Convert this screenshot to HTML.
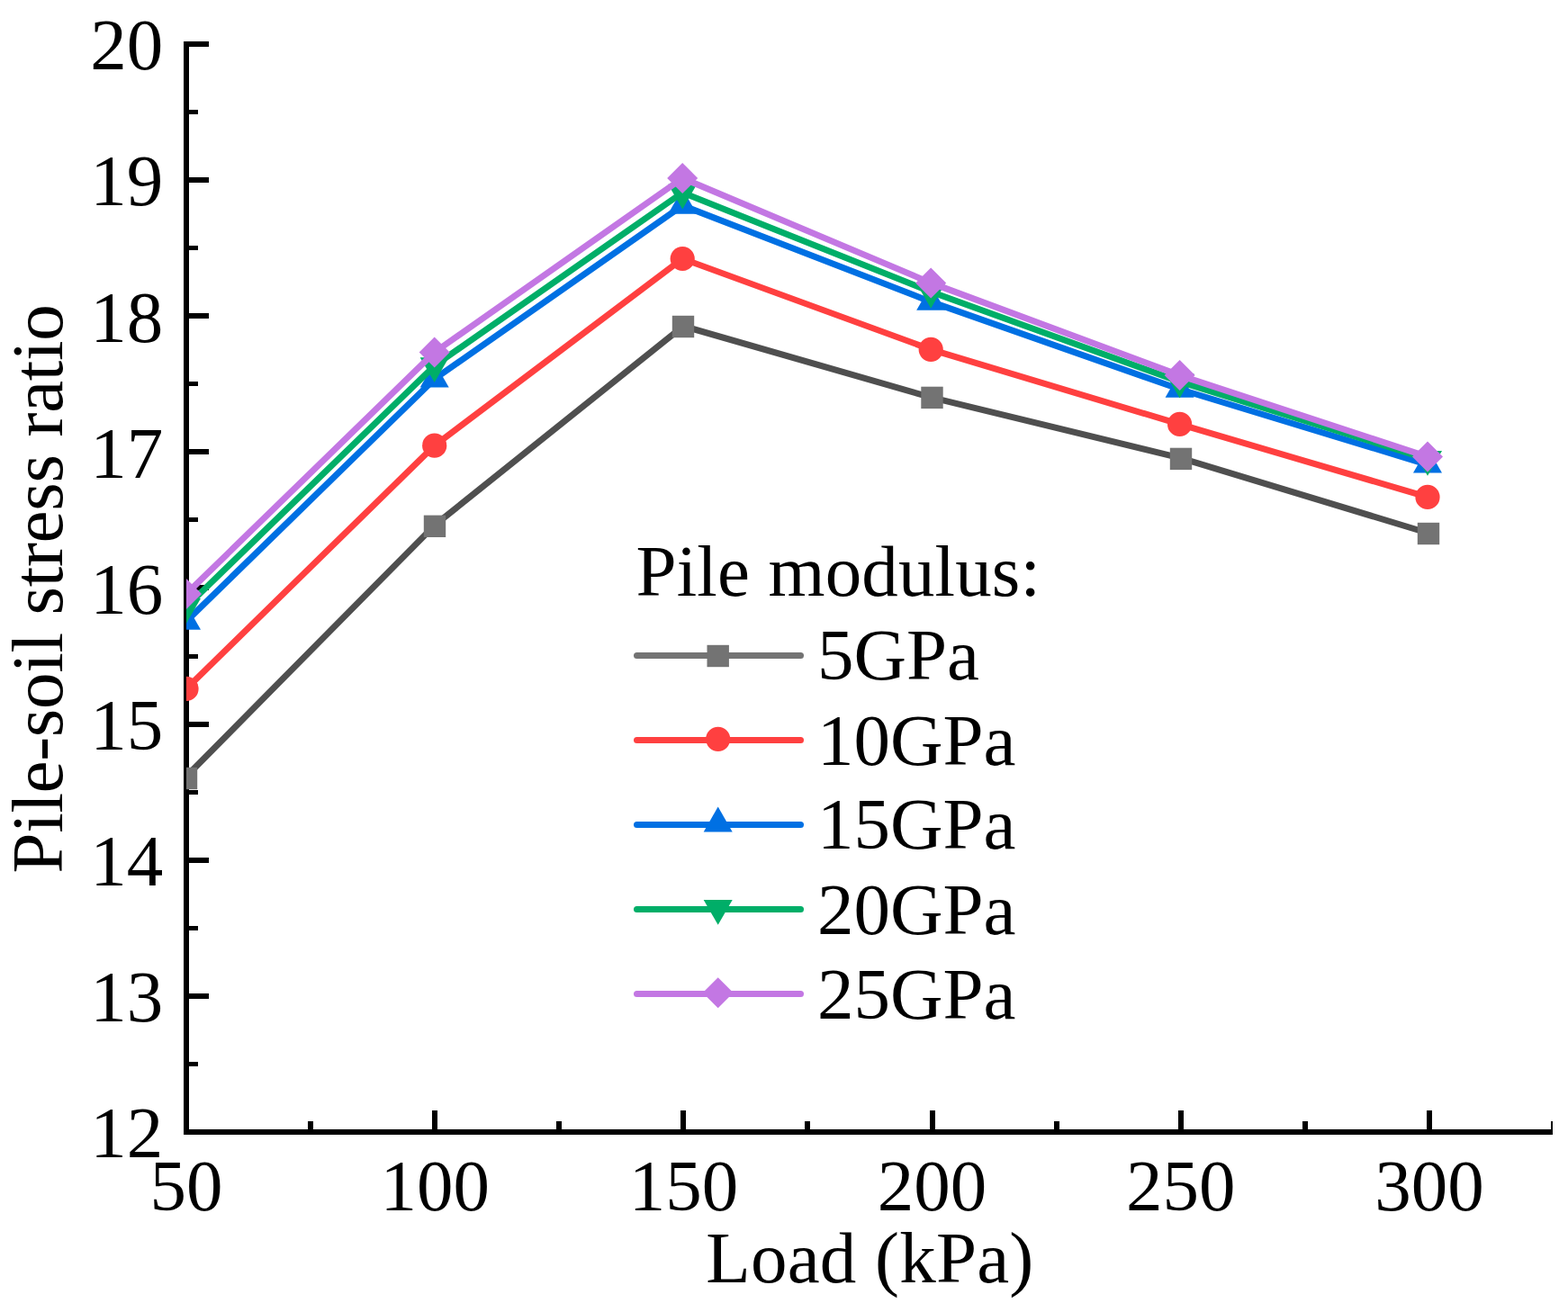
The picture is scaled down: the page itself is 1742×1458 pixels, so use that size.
<!DOCTYPE html>
<html><head><meta charset="utf-8"><title>Pile-soil stress ratio vs Load</title>
<style>html,body{margin:0;padding:0;background:#fff;}svg{display:block;}</style>
</head><body>
<svg width="1742" height="1458" viewBox="0 0 1742 1458">
<defs><clipPath id="pc"><rect x="207" y="0" width="1530" height="1258"/></clipPath></defs>
<g font-family="'Liberation Serif', 'Times New Roman', serif" font-size="81" fill="#000">
<rect x="204" y="46" width="6" height="1215" fill="#000"/>
<rect x="204" y="1255" width="1521" height="6" fill="#000"/>
<rect x="204" y="46" width="28" height="6" fill="#000"/>
<rect x="204" y="197" width="28" height="6" fill="#000"/>
<rect x="204" y="348" width="28" height="6" fill="#000"/>
<rect x="204" y="499" width="28" height="6" fill="#000"/>
<rect x="204" y="650" width="28" height="6" fill="#000"/>
<rect x="204" y="802" width="28" height="6" fill="#000"/>
<rect x="204" y="953" width="28" height="6" fill="#000"/>
<rect x="204" y="1104" width="28" height="6" fill="#000"/>
<rect x="204" y="122" width="16" height="5" fill="#000"/>
<rect x="204" y="273" width="16" height="5" fill="#000"/>
<rect x="204" y="424" width="16" height="5" fill="#000"/>
<rect x="204" y="575" width="16" height="5" fill="#000"/>
<rect x="204" y="727" width="16" height="5" fill="#000"/>
<rect x="204" y="878" width="16" height="5" fill="#000"/>
<rect x="204" y="1029" width="16" height="5" fill="#000"/>
<rect x="204" y="1180" width="16" height="5" fill="#000"/>
<rect x="480" y="1234" width="6" height="24" fill="#000"/>
<rect x="756" y="1234" width="6" height="24" fill="#000"/>
<rect x="1033" y="1234" width="6" height="24" fill="#000"/>
<rect x="1309" y="1234" width="6" height="24" fill="#000"/>
<rect x="1585" y="1234" width="6" height="24" fill="#000"/>
<rect x="342" y="1246" width="6" height="12" fill="#000"/>
<rect x="618" y="1246" width="6" height="12" fill="#000"/>
<rect x="894" y="1246" width="6" height="12" fill="#000"/>
<rect x="1171" y="1246" width="6" height="12" fill="#000"/>
<rect x="1447" y="1246" width="6" height="12" fill="#000"/>
<rect x="1723" y="1246" width="2" height="12" fill="#000"/>
<g clip-path="url(#pc)">
<polyline points="207.00,862.70 483.00,583.60 759.00,362.40 1035.50,441.90 1312.00,509.10 1587.00,592.50" fill="none" stroke="#4f4f4f" stroke-width="7.0" stroke-linejoin="round"/>
<rect x="194.80" y="852.80" width="24.4" height="24.4" fill="#737373"/>
<rect x="470.80" y="572.60" width="24.4" height="24.4" fill="#737373"/>
<rect x="746.80" y="350.80" width="24.4" height="24.4" fill="#737373"/>
<rect x="1023.30" y="429.70" width="24.4" height="24.4" fill="#737373"/>
<rect x="1299.80" y="497.70" width="24.4" height="24.4" fill="#737373"/>
<rect x="1574.80" y="580.80" width="24.4" height="24.4" fill="#737373"/>
<polyline points="207.00,765.40 482.70,495.20 758.20,287.50 1034.20,388.30 1310.60,471.40 1586.00,552.40" fill="none" stroke="#ff4040" stroke-width="7.0" stroke-linejoin="round"/>
<circle cx="207.00" cy="765.40" r="13.6" fill="#ff4040"/>
<circle cx="482.70" cy="495.20" r="13.6" fill="#ff4040"/>
<circle cx="758.20" cy="287.50" r="13.6" fill="#ff4040"/>
<circle cx="1034.20" cy="388.30" r="13.6" fill="#ff4040"/>
<circle cx="1310.60" cy="471.40" r="13.6" fill="#ff4040"/>
<circle cx="1586.00" cy="552.40" r="13.6" fill="#ff4040"/>
<polyline points="207.00,690.40 482.70,421.20 758.20,228.40 1034.20,335.40 1310.60,432.50 1586.00,516.30" fill="none" stroke="#0070e3" stroke-width="7.0" stroke-linejoin="round"/>
<path d="M207.00,671.70 L223.00,699.70 L191.00,699.70 Z" fill="#0070e3"/>
<path d="M482.70,402.50 L498.70,430.50 L466.70,430.50 Z" fill="#0070e3"/>
<path d="M758.20,209.70 L774.20,237.70 L742.20,237.70 Z" fill="#0070e3"/>
<path d="M1034.20,316.70 L1050.20,344.70 L1018.20,344.70 Z" fill="#0070e3"/>
<path d="M1310.60,413.80 L1326.60,441.80 L1294.60,441.80 Z" fill="#0070e3"/>
<path d="M1586.00,497.60 L1602.00,525.60 L1570.00,525.60 Z" fill="#0070e3"/>
<polyline points="207.00,674.30 482.70,406.40 758.20,214.00 1034.20,324.30 1310.60,424.10 1586.00,510.20" fill="none" stroke="#00ae68" stroke-width="7.0" stroke-linejoin="round"/>
<path d="M207.00,692.80 L223.00,665.10 L191.00,665.10 Z" fill="#00ae68"/>
<path d="M482.70,424.90 L498.70,397.20 L466.70,397.20 Z" fill="#00ae68"/>
<path d="M758.20,232.50 L774.20,204.80 L742.20,204.80 Z" fill="#00ae68"/>
<path d="M1034.20,342.80 L1050.20,315.10 L1018.20,315.10 Z" fill="#00ae68"/>
<path d="M1310.60,442.60 L1326.60,414.90 L1294.60,414.90 Z" fill="#00ae68"/>
<path d="M1586.00,528.70 L1602.00,501.00 L1570.00,501.00 Z" fill="#00ae68"/>
<polyline points="207.00,660.00 482.70,391.50 758.20,198.00 1034.20,314.40 1310.60,417.10 1586.00,507.60" fill="none" stroke="#c377e3" stroke-width="7.0" stroke-linejoin="round"/>
<path d="M207.00,643.00 L224.00,660.00 L207.00,677.00 L190.00,660.00 Z" fill="#c377e3"/>
<path d="M482.70,374.50 L499.70,391.50 L482.70,408.50 L465.70,391.50 Z" fill="#c377e3"/>
<path d="M758.20,181.00 L775.20,198.00 L758.20,215.00 L741.20,198.00 Z" fill="#c377e3"/>
<path d="M1034.20,297.40 L1051.20,314.40 L1034.20,331.40 L1017.20,314.40 Z" fill="#c377e3"/>
<path d="M1310.60,400.10 L1327.60,417.10 L1310.60,434.10 L1293.60,417.10 Z" fill="#c377e3"/>
<path d="M1586.00,490.60 L1603.00,507.60 L1586.00,524.60 L1569.00,507.60 Z" fill="#c377e3"/>
</g>
<text x="181.3" y="77.30" text-anchor="end">20</text>
<text x="181.3" y="228.43" text-anchor="end">19</text>
<text x="181.3" y="379.55" text-anchor="end">18</text>
<text x="181.3" y="530.67" text-anchor="end">17</text>
<text x="181.3" y="681.80" text-anchor="end">16</text>
<text x="181.3" y="832.92" text-anchor="end">15</text>
<text x="181.3" y="984.05" text-anchor="end">14</text>
<text x="181.3" y="1135.17" text-anchor="end">13</text>
<text x="181.3" y="1286.30" text-anchor="end">12</text>
<text x="207.00" y="1345" text-anchor="middle">50</text>
<text x="483.20" y="1345" text-anchor="middle">100</text>
<text x="759.40" y="1345" text-anchor="middle">150</text>
<text x="1035.60" y="1345" text-anchor="middle">200</text>
<text x="1311.80" y="1345" text-anchor="middle">250</text>
<text x="1588.00" y="1345" text-anchor="middle">300</text>
<text x="966.3" y="1424.5" text-anchor="middle" textLength="364" lengthAdjust="spacing">Load (kPa)</text>
<text transform="translate(68.7,654.4) rotate(-90)" text-anchor="middle" textLength="632.3" lengthAdjust="spacing">Pile-soil stress ratio</text>
<text x="706.5" y="662.2" textLength="449.5" lengthAdjust="spacing">Pile modulus:</text>
<line x1="707.5" y1="728.4" x2="889.5" y2="728.4" stroke="#737373" stroke-width="7.0" stroke-linecap="round"/>
<rect x="785.50" y="716.80" width="24.4" height="24.4" fill="#737373"/>
<text x="908" y="755.40">5GPa</text>
<line x1="707.5" y1="822.5" x2="889.5" y2="822.5" stroke="#ff4040" stroke-width="7.0" stroke-linecap="round"/>
<circle cx="797.70" cy="821.30" r="13.6" fill="#ff4040"/>
<text x="908" y="849.50">10GPa</text>
<line x1="707.5" y1="916.4" x2="889.5" y2="916.4" stroke="#0070e3" stroke-width="7.0" stroke-linecap="round"/>
<path d="M797.70,896.50 L813.70,924.50 L781.70,924.50 Z" fill="#0070e3"/>
<text x="908" y="943.40">15GPa</text>
<line x1="707.5" y1="1010.5" x2="889.5" y2="1010.5" stroke="#00ae68" stroke-width="7.0" stroke-linecap="round"/>
<path d="M797.70,1027.80 L813.70,1000.10 L781.70,1000.10 Z" fill="#00ae68"/>
<text x="908" y="1037.50">20GPa</text>
<line x1="707.5" y1="1104.5" x2="889.5" y2="1104.5" stroke="#c377e3" stroke-width="7.0" stroke-linecap="round"/>
<path d="M797.70,1086.30 L814.70,1103.30 L797.70,1120.30 L780.70,1103.30 Z" fill="#c377e3"/>
<text x="908" y="1131.50">25GPa</text>
</g>
</svg>
</body></html>
